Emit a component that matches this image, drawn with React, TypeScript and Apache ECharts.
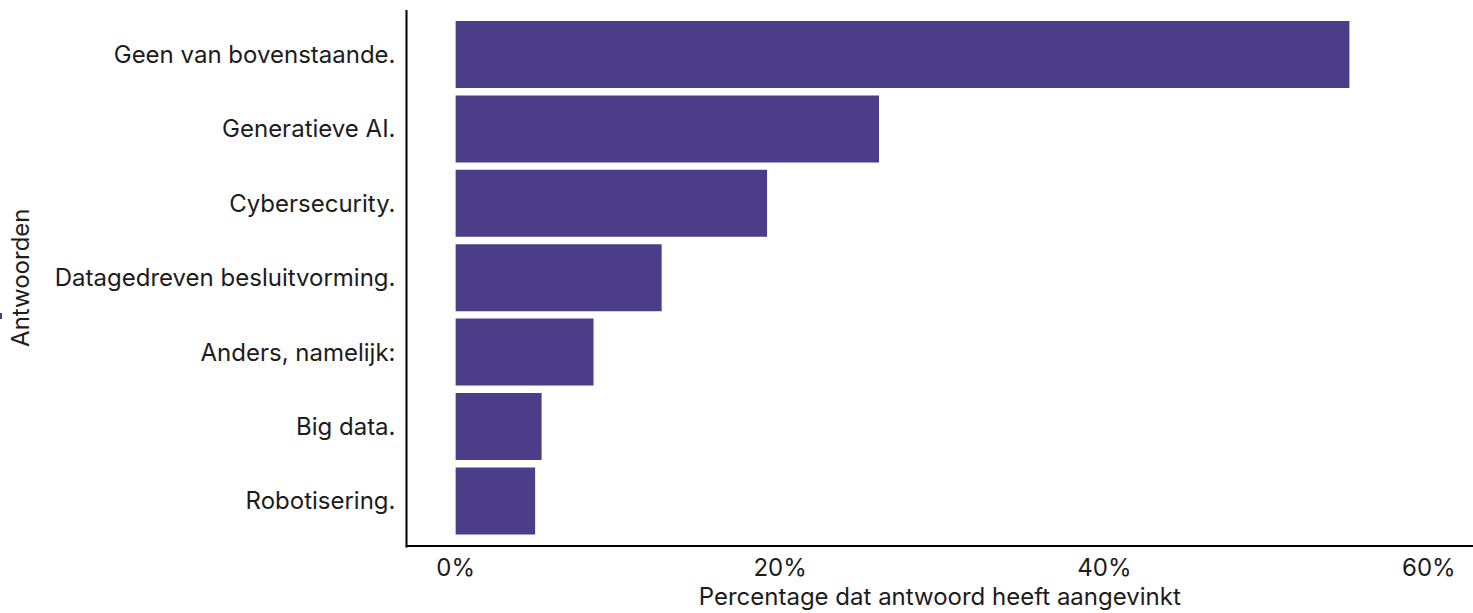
import React, { useEffect, useRef } from "react";
import * as echarts from "echarts";

const categories = [
  "Geen van bovenstaande.",
  "Generatieve AI.",
  "Cybersecurity.",
  "Datagedreven besluitvorming.",
  "Anders, namelijk:",
  "Big data.",
  "Robotisering.",
];
const values = [55.1, 26.1, 19.2, 12.7, 8.5, 5.3, 4.9];
const tickValues = [0, 20, 40, 60];
const xTitle = "Percentage dat antwoord heeft aangevinkt";
const yTitle = "Antwoorden";

const FONT = "Inter, 'DejaVu Sans', sans-serif";
const FS = 24;
const BAR = "#4B3D87";
const TEXT = "#1c1c1c";

export default function App() {
  const ref = useRef<HTMLDivElement>(null);
  useEffect(() => {
    if (!ref.current) return;
    const chart = echarts.init(ref.current, undefined, { renderer: "svg" });
    chart.setOption({
      animation: false,
      backgroundColor: "#ffffff",
      textStyle: { fontFamily: FONT },
      grid: { left: 406.5, right: 0, top: 17.3, bottom: 74.3, containLabel: false },
      xAxis: {
        type: "value",
        min: -3.03,
        max: 62.72,
        offset: 8,
        axisLine: { show: true, lineStyle: { color: "#000", width: 2 } },
        axisTick: { show: false },
        splitLine: { show: false },
        axisLabel: {
          customValues: tickValues,
          formatter: (v: number) => `${v}%`,
          fontSize: FS,
          color: TEXT,
          margin: 9,
          fontFamily: FONT,
        },
        name: xTitle,
        nameLocation: "middle",
        nameGap: 36,
        nameTextStyle: { fontSize: FS, color: TEXT, fontFamily: FONT },
      },
      yAxis: {
        type: "category",
        data: categories,
        inverse: true,
        axisLine: { show: false },
        axisTick: { show: false },
        splitLine: { show: false },
        axisLabel: { fontSize: FS, color: TEXT, margin: 11, fontFamily: FONT },
        name: yTitle,
        nameLocation: "middle",
        nameRotate: 90,
        nameGap: 374,
        nameTextStyle: { fontSize: FS, color: TEXT, fontFamily: FONT },
      },
      series: [
        {
          type: "bar",
          data: values,
          barCategoryGap: "10%",
          itemStyle: { color: BAR },
        },
      ],
      graphic: [
        {
          type: "line",
          shape: { x1: 406.5, y1: 10, x2: 406.5, y2: 547.5 },
          style: { stroke: "#000", lineWidth: 2 },
        },
        {
          type: "rect",
          shape: { x: 0, y: 313, width: 2, height: 6 },
          style: { fill: BAR },
        },
      ],
    });
    return () => chart.dispose();
  }, []);
  return (
    <div
      ref={ref}
      style={{ position: "fixed", left: 0, top: 0, width: 1473, height: 613 }}
    />
  );
}
